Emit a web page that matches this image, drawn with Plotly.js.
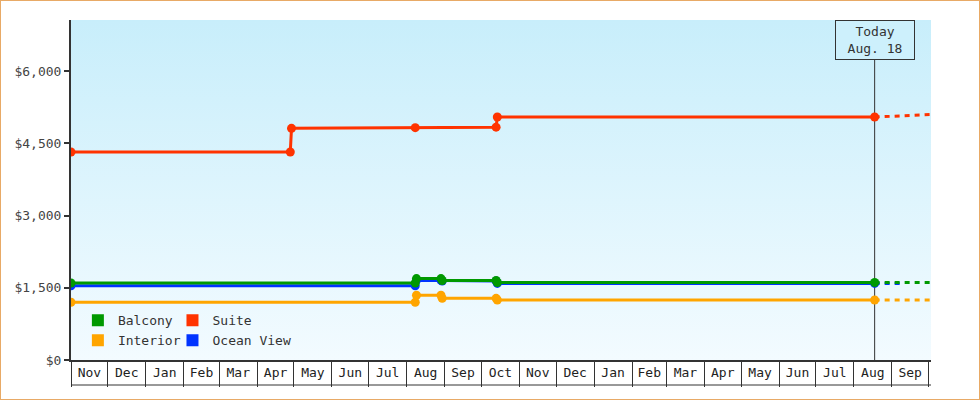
<!DOCTYPE html>
<html>
<head>
<meta charset="utf-8">
<script src="https://cdn.plot.ly/plotly-3.0.1.min.js"></script>
<style>
  body { margin: 0; background: #fff; }
  #chart { width: 978px; height: 398px; border: 1px solid #e8aa66; }
</style>
</head>
<body>
<div id="chart"></div>
<script>
// -----------------------------
// Data
// -----------------------------
const stepDates = [
  "2015-11-01", "2016-04-28", "2016-04-29", "2016-08-08",
  "2016-10-13", "2016-10-14", "2017-08-18"
];
const suitePrices = [4320, 4320, 4810, 4825, 4835, 5045, 5045];

const cabinDates = [
  "2015-11-01", "2016-08-08", "2016-08-09", "2016-08-29",
  "2016-08-30", "2016-10-13", "2016-10-14", "2017-08-18"
];
const balconyPrices = [1600, 1600, 1690, 1690, 1650, 1650, 1610, 1610];
const oceanViewPrices = [1540, 1540, 1655, 1655, 1640, 1640, 1590, 1590];
const interiorPrices = [1200, 1200, 1345, 1345, 1280, 1280, 1245, 1245];

// projection after today (dashed)
const todayDate = "2017-08-18";
const projDates = ["2017-08-18", "2017-10-03"];
const projDatesShort = ["2017-08-18", "2017-09-10"];
const suiteProj = [5045, 5097];
const balconyProj = [1610, 1610];
const oceanViewProj = [1590, 1590];
const interiorProj = [1245, 1245];

const yTicks = [0, 1500, 3000, 4500, 6000];
const yTickText = yTicks.map((v) => "$" + v.toLocaleString("en-US"));

const colors = {
  Balcony: "#009900",
  Suite: "#ff3300",
  Interior: "#ffa500",
  "Ocean View": "#0033ff"
};

const FONT = "DejaVu Sans Mono, Liberation Mono, monospace";

// -----------------------------
// Traces
// -----------------------------
function priceLine(name, x, y) {
  return {
    type: "scatter",
    mode: "lines+markers",
    x, y, name,
    showlegend: false,
    line: { color: colors[name], width: 3 },
    marker: { color: colors[name], size: 9 }
  };
}

function projLine(name, x, y) {
  return {
    type: "scatter",
    mode: "lines",
    x, y, name,
    showlegend: false,
    hoverinfo: "skip",
    line: { color: colors[name], width: 3, dash: "5px,5px" }
  };
}

// legend-only square swatches, one column per legend
function swatch(name, legendId) {
  return {
    type: "bar",
    x: [null], y: [null],
    name,
    legend: legendId,
    legendgroup: name,
    marker: { color: colors[name] }
  };
}

const traces = [
  projLine("Ocean View", projDatesShort, oceanViewProj),
  projLine("Balcony", projDates, balconyProj),
  projLine("Interior", projDates, interiorProj),
  projLine("Suite", projDates, suiteProj),
  priceLine("Ocean View", cabinDates, oceanViewPrices),
  priceLine("Balcony", cabinDates, balconyPrices),
  priceLine("Interior", cabinDates, interiorPrices),
  priceLine("Suite", stepDates, suitePrices),
  swatch("Balcony", "legend"),
  swatch("Interior", "legend"),
  swatch("Suite", "legend2"),
  swatch("Ocean View", "legend2")
];

// -----------------------------
// Layout
// -----------------------------
const gradientSvg =
  '<svg xmlns="http://www.w3.org/2000/svg" width="10" height="10" preserveAspectRatio="none">' +
  '<defs><linearGradient id="g" x1="0" y1="0" x2="0" y2="1">' +
  '<stop offset="0" stop-color="#c8eefb"/><stop offset="1" stop-color="#f3fbff"/>' +
  '</linearGradient></defs><rect width="10" height="10" fill="url(#g)"/></svg>';

const legendBase = {
  orientation: "v",
  y: 0.087,
  xanchor: "left",
  yanchor: "middle",
  tracegroupgap: 0,
  bgcolor: "rgba(0,0,0,0)",
  font: { family: FONT, size: 13, color: "#333" }
};

const layout = {
  width: 978,
  height: 398,
  margin: { l: 70, r: 48, t: 19, b: 39 },
  paper_bgcolor: "#fff",
  plot_bgcolor: "rgba(0,0,0,0)",
  font: { family: FONT, size: 13, color: "#333" },
  barmode: "overlay",
  xaxis: {
    type: "date",
    range: ["2015-11-01", "2017-10-03"],
    tick0: "2015-11-01",
    dtick: "M1",
    tickformat: "%b",
    ticklabelmode: "period",
    ticks: "outside",
    ticklen: 25,
    tickwidth: 1,
    tickcolor: "#333",
    ticklabelstandoff: -26,
    showline: true,
    linecolor: "#333",
    linewidth: 2,
    showgrid: false,
    zeroline: false,
    tickfont: { family: FONT, size: 13, color: "#222" }
  },
  yaxis: {
    range: [0, 7060],
    tickmode: "array",
    tickvals: yTicks,
    ticktext: yTickText,
    ticks: "outside",
    ticklen: 5,
    tickwidth: 2,
    tickcolor: "#333",
    showline: true,
    linecolor: "#333",
    linewidth: 2,
    showgrid: false,
    zeroline: false,
    tickfont: { family: FONT, size: 13, color: "#444" }
  },
  legend: { ...legendBase, x: 0.008 },
  legend2: { ...legendBase, x: 0.118 },
  images: [{
    source: "data:image/svg+xml;utf8," + encodeURIComponent(gradientSvg),
    xref: "paper", yref: "paper",
    x: 0, y: 1, sizex: 1, sizey: 1,
    xanchor: "left", yanchor: "top",
    sizing: "stretch",
    layer: "below"
  }],
  shapes: [
    // today marker line
    {
      type: "line",
      xref: "x", yref: "paper",
      x0: todayDate, x1: todayDate, y0: 0, y1: 1,
      line: { color: "#333", width: 1 },
      layer: "below"
    },
    // bottom edge of the month cells (25px under the axis)
    {
      type: "line",
      xref: "paper", yref: "paper",
      x0: 0, x1: 1, y0: -25 / 340, y1: -25 / 340,
      line: { color: "#333", width: 1 }
    }
  ],
  annotations: [{
    x: todayDate, xref: "x",
    y: 1, yref: "paper", yanchor: "top",
    text: "Today<br>Aug. 18",
    showarrow: false,
    bgcolor: "#cdf0fc",
    bordercolor: "#333",
    borderwidth: 1,
    borderpad: 3,
    width: 72,
    height: 32,
    font: { family: FONT, size: 13, color: "#333" }
  }]
};

Plotly.newPlot("chart", traces, layout, { displayModeBar: false, responsive: false });
</script>
</body>
</html>
